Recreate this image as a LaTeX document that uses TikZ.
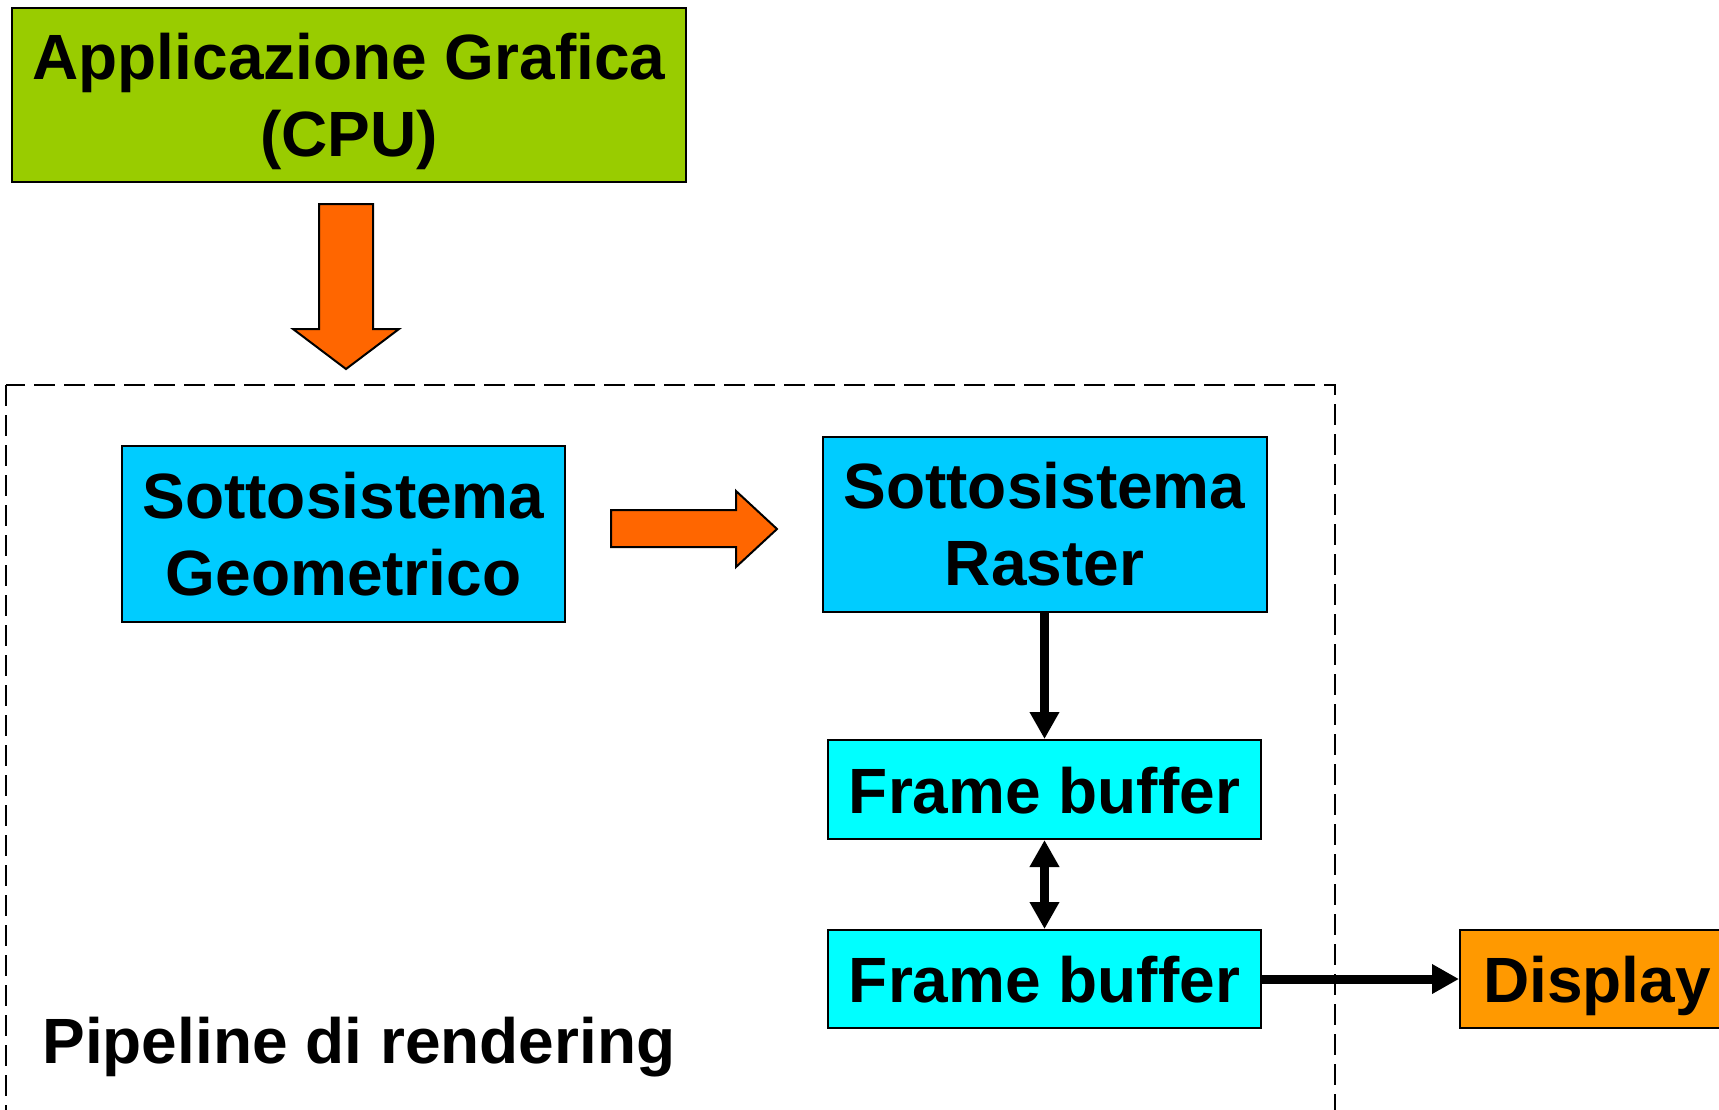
\documentclass[tikz,border=0pt]{standalone}
\usepackage{fontspec}
\setmainfont{Liberation Sans}
\usepackage{tikz}
\usetikzlibrary{arrows.meta,positioning,calc}
\usepackage{xcolor}
\definecolor{appgreen}{HTML}{99CC00}
\definecolor{subblue}{HTML}{00CCFF}
\definecolor{fbcyan}{HTML}{00FFFF}
\definecolor{dispamber}{HTML}{FF9900}
\definecolor{flowred}{HTML}{FF6600}
\newcommand{\bigbold}{\bfseries\fontsize{32}{38.4}\selectfont}

\begin{document}
\begin{tikzpicture}[x=0.5pt,y=-0.5pt,>=Latex,
    blockbox/.style={draw,line width=1pt,align=center,inner sep=0pt,font=\bigbold},
    oneline/.style={text height=23.5pt,text depth=0pt},
    linkarrow/.style={line width=4.5pt,-{Triangle[length=13.5pt,width=14pt]}},
    bigflow/.style={draw,line width=1pt,fill=flowred}]
  \useasboundingbox (0,0) rectangle (1719,1109);
  \clip (0,0) rectangle (1719,1109);
  % Pipeline frame
  \draw[line width=1pt,dash pattern=on 10.5pt off 4.5pt] (5.5,385) rectangle (1335,1150);
  \node[anchor=base west,inner sep=0pt,font=\bigbold] (pipe) at (42,1063) {Pipeline di rendering};
  % Boxes
  \node[blockbox,fill=appgreen,minimum width=337pt,minimum height=87pt] (app) at (349,95) {Applicazione Grafica\\\smash{(CPU)}};
  \node[blockbox,fill=subblue,minimum width=221.5pt,minimum height=88pt] (geo) at (343.5,534) {Sottosistema\\Geometrico};
  \node[blockbox,fill=subblue,minimum width=222pt,minimum height=87.5pt] (raster) at (1044.5,524.5) {Sottosistema\\Raster};
  \node[blockbox,oneline,fill=fbcyan,minimum width=216.5pt,minimum height=49.5pt] (fbone) at (1044.5,789.5) {Frame buffer};
  \node[blockbox,oneline,fill=fbcyan,minimum width=216.5pt,minimum height=49pt] (fbtwo) at (1044.5,979) {Frame buffer};
  \node[blockbox,oneline,fill=dispamber,minimum width=137pt,minimum height=49pt] (disp) at (1597,979) {Display};
  % Block arrows (CPU -> pipeline, geometry -> raster)
  \draw[bigflow] (319,204) -- (373,204) -- (373,329) -- (399,329) -- (346,369) -- (293,329) -- (319,329) -- cycle;
  \draw[bigflow] (611,510) -- (736,510) -- (736,491) -- (777,529) -- (736,567) -- (736,547) -- (611,547) -- cycle;
  % Connectors
  \draw[linkarrow] (raster.south) -- (fbone.north);
  \draw[linkarrow,{Triangle[length=13.5pt,width=14pt]}-{Triangle[length=13.5pt,width=14pt]}] (fbone.south) -- (fbtwo.north);
  \draw[linkarrow] (fbtwo.east) -- (disp.west);
\end{tikzpicture}
\end{document}
